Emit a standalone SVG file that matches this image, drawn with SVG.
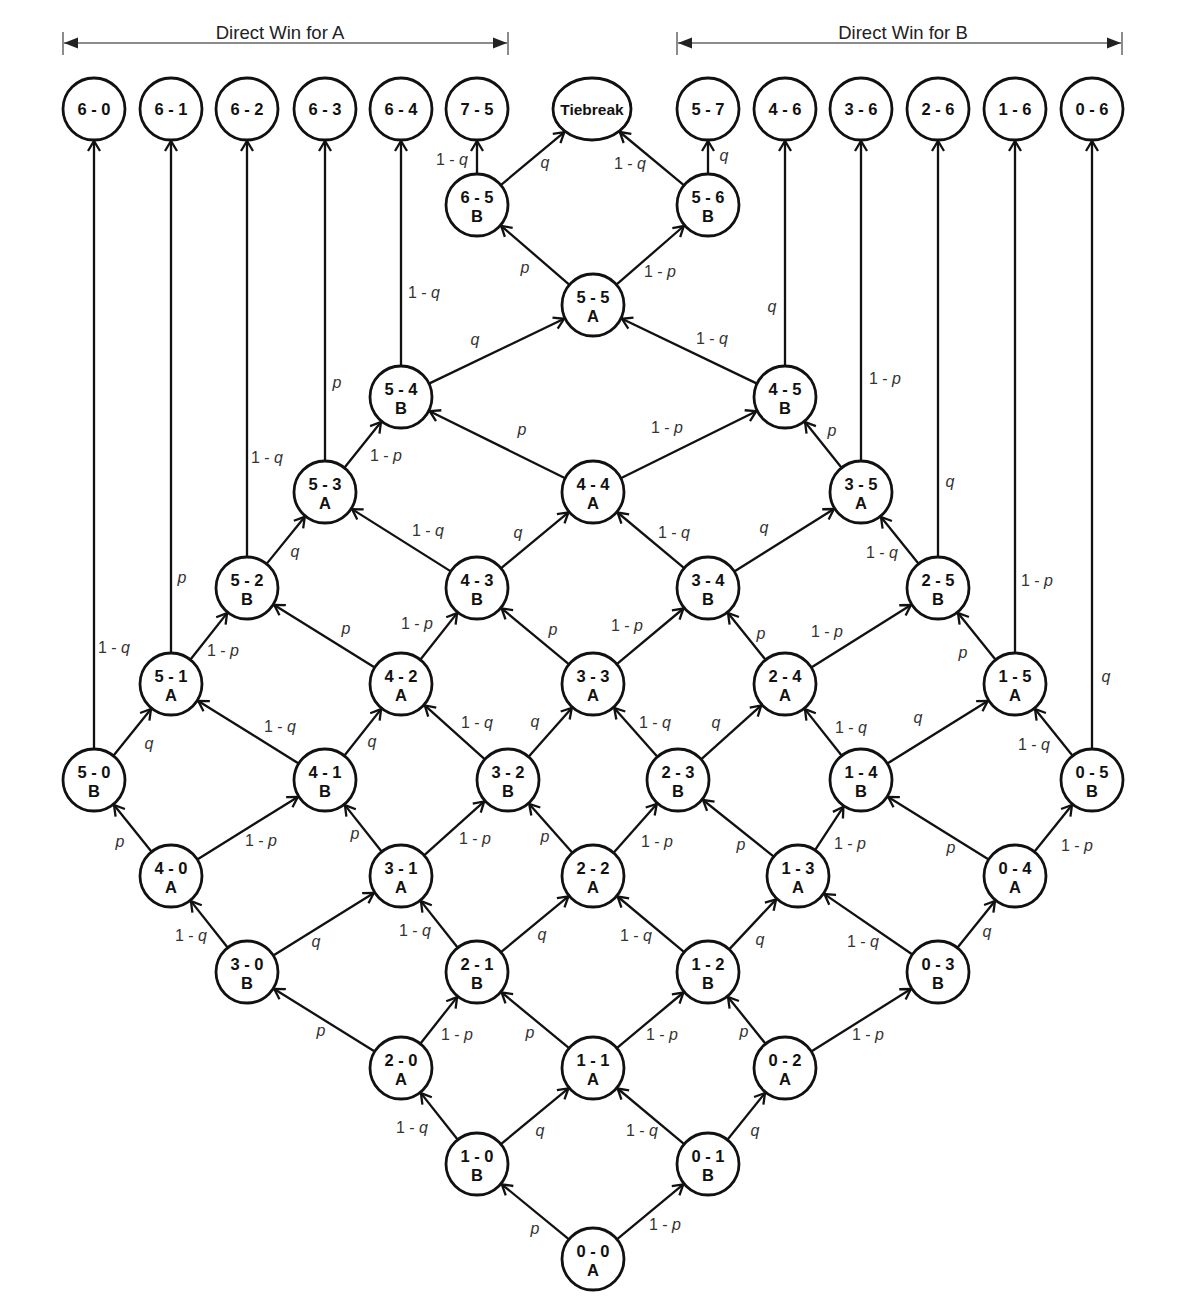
<svg xmlns="http://www.w3.org/2000/svg" width="1184" height="1310" viewBox="0 0 1184 1310">
<style>
.n{fill:#fff;stroke:#111;stroke-width:2.8}
.t{font-family:"Liberation Sans",Arial,sans-serif;font-size:16.5px;font-weight:bold;fill:#111;text-anchor:middle}
.e{stroke:#111;stroke-width:2.3;fill:none;marker-end:url(#ah)}
.l{font-family:"Liberation Sans",Arial,sans-serif;font-size:16px;fill:#333;text-anchor:middle}
.v{font-style:italic}
.h{stroke:#666;stroke-width:1.5;fill:none}
.ht{font-family:"Liberation Sans",Arial,sans-serif;font-size:18.5px;fill:#222;text-anchor:middle}
</style>
<defs>
<marker id="ah" markerUnits="userSpaceOnUse" viewBox="-12 -8 14 16" refX="0" refY="0" markerWidth="14" markerHeight="16" orient="auto">
<path d="M-10,-6 L0,0 L-10,6" fill="none" stroke="#111" stroke-width="2.3"/>
</marker>
<marker id="hh" markerUnits="userSpaceOnUse" viewBox="-14 -6 15 12" refX="0" refY="0" markerWidth="15" markerHeight="12" orient="auto-start-reverse">
<path d="M-14,-5.5 L0,0 L-14,5.5 Z" fill="#222"/>
</marker>
</defs>
<g id="headers">
<line class="h" x1="64" y1="43" x2="507" y2="43" style="marker-start:url(#hh);marker-end:url(#hh)"/>
<line class="h" x1="63" y1="32" x2="63" y2="55"/>
<line class="h" x1="508" y1="32" x2="508" y2="55"/>
<text class="ht" x="280" y="39">Direct Win for A</text>
<line class="h" x1="678" y1="43" x2="1121" y2="43" style="marker-start:url(#hh);marker-end:url(#hh)"/>
<line class="h" x1="677" y1="32" x2="677" y2="55"/>
<line class="h" x1="1122" y1="32" x2="1122" y2="55"/>
<text class="ht" x="903" y="39">Direct Win for B</text>
</g>
<g id="connectors">
<line class="e" x1="569.0" y1="1239.3" x2="501.8" y2="1184.3"/>
<line class="e" x1="616.9" y1="1239.3" x2="683.3" y2="1184.4"/>
<line class="e" x1="457.8" y1="1139.7" x2="420.9" y2="1093.1"/>
<line class="e" x1="500.9" y1="1144.2" x2="568.4" y2="1088.4"/>
<line class="e" x1="684.2" y1="1144.1" x2="617.6" y2="1088.5"/>
<line class="e" x1="727.4" y1="1139.8" x2="765.0" y2="1093.0"/>
<line class="e" x1="374.7" y1="1051.6" x2="274.2" y2="988.9"/>
<line class="e" x1="420.3" y1="1043.7" x2="457.1" y2="997.1"/>
<line class="e" x1="569.1" y1="1048.2" x2="501.6" y2="992.4"/>
<line class="e" x1="616.8" y1="1048.1" x2="683.4" y2="992.5"/>
<line class="e" x1="765.6" y1="1043.8" x2="728.0" y2="997.0"/>
<line class="e" x1="811.3" y1="1051.5" x2="910.9" y2="989.0"/>
<line class="e" x1="227.8" y1="947.7" x2="190.9" y2="901.1"/>
<line class="e" x1="273.3" y1="955.6" x2="373.8" y2="892.9"/>
<line class="e" x1="457.8" y1="947.7" x2="420.9" y2="901.1"/>
<line class="e" x1="500.9" y1="952.2" x2="568.4" y2="896.4"/>
<line class="e" x1="684.2" y1="952.1" x2="617.6" y2="896.5"/>
<line class="e" x1="729.2" y1="949.4" x2="776.1" y2="899.4"/>
<line class="e" x1="912.4" y1="954.5" x2="824.4" y2="894.1"/>
<line class="e" x1="957.4" y1="947.8" x2="995.0" y2="901.0"/>
<line class="e" x1="151.6" y1="851.8" x2="114.0" y2="805.0"/>
<line class="e" x1="197.3" y1="859.6" x2="297.8" y2="796.9"/>
<line class="e" x1="381.8" y1="851.7" x2="344.9" y2="805.1"/>
<line class="e" x1="424.1" y1="855.3" x2="484.2" y2="801.4"/>
<line class="e" x1="572.4" y1="852.8" x2="529.2" y2="804.0"/>
<line class="e" x1="613.6" y1="852.8" x2="656.8" y2="804.0"/>
<line class="e" x1="773.8" y1="856.6" x2="703.0" y2="800.0"/>
<line class="e" x1="815.0" y1="850.1" x2="843.4" y2="806.8"/>
<line class="e" x1="988.7" y1="859.6" x2="888.2" y2="796.9"/>
<line class="e" x1="1034.4" y1="851.8" x2="1072.0" y2="805.0"/>
<line class="e" x1="94" y1="749" x2="94" y2="141"/>
<line class="e" x1="113.4" y1="755.8" x2="151.0" y2="709.0"/>
<line class="e" x1="298.7" y1="763.6" x2="198.2" y2="700.9"/>
<line class="e" x1="344.3" y1="755.7" x2="381.1" y2="709.1"/>
<line class="e" x1="484.9" y1="759.3" x2="424.8" y2="705.4"/>
<line class="e" x1="528.6" y1="756.8" x2="571.8" y2="708.0"/>
<line class="e" x1="657.4" y1="756.8" x2="614.2" y2="708.0"/>
<line class="e" x1="701.1" y1="759.3" x2="761.2" y2="705.4"/>
<line class="e" x1="841.8" y1="755.7" x2="804.9" y2="709.1"/>
<line class="e" x1="887.3" y1="763.6" x2="987.8" y2="700.9"/>
<line class="e" x1="1072.6" y1="755.8" x2="1035.0" y2="709.0"/>
<line class="e" x1="1092" y1="749" x2="1092" y2="141"/>
<line class="e" x1="171" y1="653" x2="171" y2="141"/>
<line class="e" x1="190.3" y1="659.7" x2="227.1" y2="613.1"/>
<line class="e" x1="374.7" y1="667.6" x2="274.2" y2="604.9"/>
<line class="e" x1="420.3" y1="659.7" x2="457.1" y2="613.1"/>
<line class="e" x1="569.1" y1="664.3" x2="501.6" y2="608.4"/>
<line class="e" x1="616.8" y1="664.1" x2="683.4" y2="608.5"/>
<line class="e" x1="765.6" y1="659.8" x2="728.0" y2="613.0"/>
<line class="e" x1="811.3" y1="667.5" x2="910.9" y2="605.0"/>
<line class="e" x1="995.6" y1="659.8" x2="958.0" y2="613.0"/>
<line class="e" x1="1015" y1="653" x2="1015" y2="141"/>
<line class="e" x1="247" y1="557" x2="247" y2="141"/>
<line class="e" x1="266.6" y1="563.9" x2="304.8" y2="516.8"/>
<line class="e" x1="450.8" y1="571.4" x2="352.0" y2="509.1"/>
<line class="e" x1="500.9" y1="568.3" x2="568.4" y2="512.4"/>
<line class="e" x1="684.2" y1="568.1" x2="617.6" y2="512.5"/>
<line class="e" x1="734.3" y1="571.5" x2="833.9" y2="509.0"/>
<line class="e" x1="918.6" y1="563.8" x2="881.0" y2="517.0"/>
<line class="e" x1="938" y1="557" x2="938" y2="141"/>
<line class="e" x1="325" y1="461" x2="325" y2="141"/>
<line class="e" x1="344.4" y1="467.8" x2="381.0" y2="422.0"/>
<line class="e" x1="565.2" y1="478.2" x2="429.7" y2="411.2"/>
<line class="e" x1="620.8" y1="478.2" x2="756.3" y2="411.2"/>
<line class="e" x1="841.6" y1="467.8" x2="805.0" y2="422.0"/>
<line class="e" x1="861" y1="461" x2="861" y2="141"/>
<line class="e" x1="401" y1="366" x2="401" y2="141"/>
<line class="e" x1="429.0" y1="383.6" x2="564.1" y2="318.8"/>
<line class="e" x1="757.0" y1="383.6" x2="621.9" y2="318.8"/>
<line class="e" x1="785" y1="366" x2="785" y2="141"/>
<line class="e" x1="569.5" y1="284.8" x2="501.2" y2="225.9"/>
<line class="e" x1="616.4" y1="284.7" x2="683.8" y2="226.0"/>
<line class="e" x1="477" y1="174" x2="477" y2="141"/>
<line class="e" x1="708" y1="174" x2="708" y2="141"/>
<line class="e" x1="500.8" y1="185.1" x2="564.3" y2="132.1"/>
<line class="e" x1="684.1" y1="185.3" x2="619.8" y2="132.0"/>
<g id="edge-labels">
<text class="l" x="114" y="653">1 - <tspan class="v">q</tspan></text>
<text class="l" x="182" y="583"><tspan class="v">p</tspan></text>
<text class="l" x="267" y="463">1 - <tspan class="v">q</tspan></text>
<text class="l" x="337" y="388"><tspan class="v">p</tspan></text>
<text class="l" x="424" y="298">1 - <tspan class="v">q</tspan></text>
<text class="l" x="772" y="312"><tspan class="v">q</tspan></text>
<text class="l" x="885" y="384">1 - <tspan class="v">p</tspan></text>
<text class="l" x="950" y="487"><tspan class="v">q</tspan></text>
<text class="l" x="1037" y="586">1 - <tspan class="v">p</tspan></text>
<text class="l" x="1106" y="682"><tspan class="v">q</tspan></text>
<text class="l" x="452" y="165">1 - <tspan class="v">q</tspan></text>
<text class="l" x="545" y="168"><tspan class="v">q</tspan></text>
<text class="l" x="630" y="169">1 - <tspan class="v">q</tspan></text>
<text class="l" x="724" y="161"><tspan class="v">q</tspan></text>
<text class="l" x="525" y="273"><tspan class="v">p</tspan></text>
<text class="l" x="660" y="277">1 - <tspan class="v">p</tspan></text>
<text class="l" x="475" y="345"><tspan class="v">q</tspan></text>
<text class="l" x="712" y="344">1 - <tspan class="v">q</tspan></text>
<text class="l" x="522" y="435"><tspan class="v">p</tspan></text>
<text class="l" x="667" y="433">1 - <tspan class="v">p</tspan></text>
<text class="l" x="386" y="461">1 - <tspan class="v">p</tspan></text>
<text class="l" x="832" y="436"><tspan class="v">p</tspan></text>
<text class="l" x="295" y="557"><tspan class="v">q</tspan></text>
<text class="l" x="428" y="536">1 - <tspan class="v">q</tspan></text>
<text class="l" x="518" y="538"><tspan class="v">q</tspan></text>
<text class="l" x="674" y="538">1 - <tspan class="v">q</tspan></text>
<text class="l" x="764" y="533"><tspan class="v">q</tspan></text>
<text class="l" x="882" y="558">1 - <tspan class="v">q</tspan></text>
<text class="l" x="223" y="656">1 - <tspan class="v">p</tspan></text>
<text class="l" x="346" y="634"><tspan class="v">p</tspan></text>
<text class="l" x="417" y="629">1 - <tspan class="v">p</tspan></text>
<text class="l" x="553" y="635"><tspan class="v">p</tspan></text>
<text class="l" x="627" y="631">1 - <tspan class="v">p</tspan></text>
<text class="l" x="761" y="639"><tspan class="v">p</tspan></text>
<text class="l" x="827" y="637">1 - <tspan class="v">p</tspan></text>
<text class="l" x="963" y="658"><tspan class="v">p</tspan></text>
<text class="l" x="149" y="749"><tspan class="v">q</tspan></text>
<text class="l" x="280" y="732">1 - <tspan class="v">q</tspan></text>
<text class="l" x="372" y="747"><tspan class="v">q</tspan></text>
<text class="l" x="477" y="728">1 - <tspan class="v">q</tspan></text>
<text class="l" x="535" y="727"><tspan class="v">q</tspan></text>
<text class="l" x="655" y="728">1 - <tspan class="v">q</tspan></text>
<text class="l" x="716" y="728"><tspan class="v">q</tspan></text>
<text class="l" x="851" y="733">1 - <tspan class="v">q</tspan></text>
<text class="l" x="918" y="723"><tspan class="v">q</tspan></text>
<text class="l" x="1034" y="750">1 - <tspan class="v">q</tspan></text>
<text class="l" x="120" y="847"><tspan class="v">p</tspan></text>
<text class="l" x="261" y="846">1 - <tspan class="v">p</tspan></text>
<text class="l" x="355" y="839"><tspan class="v">p</tspan></text>
<text class="l" x="475" y="844">1 - <tspan class="v">p</tspan></text>
<text class="l" x="545" y="842"><tspan class="v">p</tspan></text>
<text class="l" x="657" y="847">1 - <tspan class="v">p</tspan></text>
<text class="l" x="741" y="850"><tspan class="v">p</tspan></text>
<text class="l" x="850" y="849">1 - <tspan class="v">p</tspan></text>
<text class="l" x="951" y="853"><tspan class="v">p</tspan></text>
<text class="l" x="1077" y="851">1 - <tspan class="v">p</tspan></text>
<text class="l" x="191" y="941">1 - <tspan class="v">q</tspan></text>
<text class="l" x="316" y="947"><tspan class="v">q</tspan></text>
<text class="l" x="415" y="936">1 - <tspan class="v">q</tspan></text>
<text class="l" x="542" y="940"><tspan class="v">q</tspan></text>
<text class="l" x="636" y="941">1 - <tspan class="v">q</tspan></text>
<text class="l" x="760" y="945"><tspan class="v">q</tspan></text>
<text class="l" x="863" y="947">1 - <tspan class="v">q</tspan></text>
<text class="l" x="987" y="937"><tspan class="v">q</tspan></text>
<text class="l" x="321" y="1036"><tspan class="v">p</tspan></text>
<text class="l" x="457" y="1040">1 - <tspan class="v">p</tspan></text>
<text class="l" x="530" y="1038"><tspan class="v">p</tspan></text>
<text class="l" x="662" y="1040">1 - <tspan class="v">p</tspan></text>
<text class="l" x="744" y="1037"><tspan class="v">p</tspan></text>
<text class="l" x="868" y="1040">1 - <tspan class="v">p</tspan></text>
<text class="l" x="412" y="1133">1 - <tspan class="v">q</tspan></text>
<text class="l" x="540" y="1136"><tspan class="v">q</tspan></text>
<text class="l" x="642" y="1136">1 - <tspan class="v">q</tspan></text>
<text class="l" x="755" y="1136"><tspan class="v">q</tspan></text>
<text class="l" x="535" y="1234"><tspan class="v">p</tspan></text>
<text class="l" x="665" y="1230">1 - <tspan class="v">p</tspan></text>
</g>
</g>
<g id="nodes">
<g id="n6-0"><circle class="n" cx="94" cy="109" r="31"/><text class="t" x="94" y="115">6 - 0</text></g>
<g id="n6-1"><circle class="n" cx="171" cy="109" r="31"/><text class="t" x="171" y="115">6 - 1</text></g>
<g id="n6-2"><circle class="n" cx="247" cy="109" r="31"/><text class="t" x="247" y="115">6 - 2</text></g>
<g id="n6-3"><circle class="n" cx="325" cy="109" r="31"/><text class="t" x="325" y="115">6 - 3</text></g>
<g id="n6-4"><circle class="n" cx="401" cy="109" r="31"/><text class="t" x="401" y="115">6 - 4</text></g>
<g id="n7-5"><circle class="n" cx="477" cy="109" r="31"/><text class="t" x="477" y="115">7 - 5</text></g>
<g id="tiebreak"><ellipse class="n" cx="592" cy="109" rx="39" ry="31"/><text class="t" x="592" y="115" style="font-size:15.5px">Tiebreak</text></g>
<g id="n5-7"><circle class="n" cx="708" cy="109" r="31"/><text class="t" x="708" y="115">5 - 7</text></g>
<g id="n4-6"><circle class="n" cx="785" cy="109" r="31"/><text class="t" x="785" y="115">4 - 6</text></g>
<g id="n3-6"><circle class="n" cx="861" cy="109" r="31"/><text class="t" x="861" y="115">3 - 6</text></g>
<g id="n2-6"><circle class="n" cx="938" cy="109" r="31"/><text class="t" x="938" y="115">2 - 6</text></g>
<g id="n1-6"><circle class="n" cx="1015" cy="109" r="31"/><text class="t" x="1015" y="115">1 - 6</text></g>
<g id="n0-6"><circle class="n" cx="1092" cy="109" r="31"/><text class="t" x="1092" y="115">0 - 6</text></g>

<g id="n6-5"><circle class="n" cx="477" cy="205" r="31"/><text class="t" x="477" y="203">6 - 5</text><text class="t" x="477" y="222">B</text></g>
<g id="n5-6"><circle class="n" cx="708" cy="205" r="31"/><text class="t" x="708" y="203">5 - 6</text><text class="t" x="708" y="222">B</text></g>
<g id="n5-5"><circle class="n" cx="593" cy="305" r="31"/><text class="t" x="593" y="303">5 - 5</text><text class="t" x="593" y="322">A</text></g>
<g id="n5-4"><circle class="n" cx="401" cy="397" r="31"/><text class="t" x="401" y="395">5 - 4</text><text class="t" x="401" y="414">B</text></g>
<g id="n4-5"><circle class="n" cx="785" cy="397" r="31"/><text class="t" x="785" y="395">4 - 5</text><text class="t" x="785" y="414">B</text></g>
<g id="n5-3"><circle class="n" cx="325" cy="492" r="31"/><text class="t" x="325" y="490">5 - 3</text><text class="t" x="325" y="509">A</text></g>
<g id="n4-4"><circle class="n" cx="593" cy="492" r="31"/><text class="t" x="593" y="490">4 - 4</text><text class="t" x="593" y="509">A</text></g>
<g id="n3-5"><circle class="n" cx="861" cy="492" r="31"/><text class="t" x="861" y="490">3 - 5</text><text class="t" x="861" y="509">A</text></g>
<g id="n5-2"><circle class="n" cx="247" cy="588" r="31"/><text class="t" x="247" y="586">5 - 2</text><text class="t" x="247" y="605">B</text></g>
<g id="n4-3"><circle class="n" cx="477" cy="588" r="31"/><text class="t" x="477" y="586">4 - 3</text><text class="t" x="477" y="605">B</text></g>
<g id="n3-4"><circle class="n" cx="708" cy="588" r="31"/><text class="t" x="708" y="586">3 - 4</text><text class="t" x="708" y="605">B</text></g>
<g id="n2-5"><circle class="n" cx="938" cy="588" r="31"/><text class="t" x="938" y="586">2 - 5</text><text class="t" x="938" y="605">B</text></g>
<g id="n5-1"><circle class="n" cx="171" cy="684" r="31"/><text class="t" x="171" y="682">5 - 1</text><text class="t" x="171" y="701">A</text></g>
<g id="n4-2"><circle class="n" cx="401" cy="684" r="31"/><text class="t" x="401" y="682">4 - 2</text><text class="t" x="401" y="701">A</text></g>
<g id="n3-3"><circle class="n" cx="593" cy="684" r="31"/><text class="t" x="593" y="682">3 - 3</text><text class="t" x="593" y="701">A</text></g>
<g id="n2-4"><circle class="n" cx="785" cy="684" r="31"/><text class="t" x="785" y="682">2 - 4</text><text class="t" x="785" y="701">A</text></g>
<g id="n1-5"><circle class="n" cx="1015" cy="684" r="31"/><text class="t" x="1015" y="682">1 - 5</text><text class="t" x="1015" y="701">A</text></g>
<g id="n5-0"><circle class="n" cx="94" cy="780" r="31"/><text class="t" x="94" y="778">5 - 0</text><text class="t" x="94" y="797">B</text></g>
<g id="n4-1"><circle class="n" cx="325" cy="780" r="31"/><text class="t" x="325" y="778">4 - 1</text><text class="t" x="325" y="797">B</text></g>
<g id="n3-2"><circle class="n" cx="508" cy="780" r="31"/><text class="t" x="508" y="778">3 - 2</text><text class="t" x="508" y="797">B</text></g>
<g id="n2-3"><circle class="n" cx="678" cy="780" r="31"/><text class="t" x="678" y="778">2 - 3</text><text class="t" x="678" y="797">B</text></g>
<g id="n1-4"><circle class="n" cx="861" cy="780" r="31"/><text class="t" x="861" y="778">1 - 4</text><text class="t" x="861" y="797">B</text></g>
<g id="n0-5"><circle class="n" cx="1092" cy="780" r="31"/><text class="t" x="1092" y="778">0 - 5</text><text class="t" x="1092" y="797">B</text></g>
<g id="n4-0"><circle class="n" cx="171" cy="876" r="31"/><text class="t" x="171" y="874">4 - 0</text><text class="t" x="171" y="893">A</text></g>
<g id="n3-1"><circle class="n" cx="401" cy="876" r="31"/><text class="t" x="401" y="874">3 - 1</text><text class="t" x="401" y="893">A</text></g>
<g id="n2-2"><circle class="n" cx="593" cy="876" r="31"/><text class="t" x="593" y="874">2 - 2</text><text class="t" x="593" y="893">A</text></g>
<g id="n1-3"><circle class="n" cx="798" cy="876" r="31"/><text class="t" x="798" y="874">1 - 3</text><text class="t" x="798" y="893">A</text></g>
<g id="n0-4"><circle class="n" cx="1015" cy="876" r="31"/><text class="t" x="1015" y="874">0 - 4</text><text class="t" x="1015" y="893">A</text></g>
<g id="n3-0"><circle class="n" cx="247" cy="972" r="31"/><text class="t" x="247" y="970">3 - 0</text><text class="t" x="247" y="989">B</text></g>
<g id="n2-1"><circle class="n" cx="477" cy="972" r="31"/><text class="t" x="477" y="970">2 - 1</text><text class="t" x="477" y="989">B</text></g>
<g id="n1-2"><circle class="n" cx="708" cy="972" r="31"/><text class="t" x="708" y="970">1 - 2</text><text class="t" x="708" y="989">B</text></g>
<g id="n0-3"><circle class="n" cx="938" cy="972" r="31"/><text class="t" x="938" y="970">0 - 3</text><text class="t" x="938" y="989">B</text></g>
<g id="n2-0"><circle class="n" cx="401" cy="1068" r="31"/><text class="t" x="401" y="1066">2 - 0</text><text class="t" x="401" y="1085">A</text></g>
<g id="n1-1"><circle class="n" cx="593" cy="1068" r="31"/><text class="t" x="593" y="1066">1 - 1</text><text class="t" x="593" y="1085">A</text></g>
<g id="n0-2"><circle class="n" cx="785" cy="1068" r="31"/><text class="t" x="785" y="1066">0 - 2</text><text class="t" x="785" y="1085">A</text></g>
<g id="n1-0"><circle class="n" cx="477" cy="1164" r="31"/><text class="t" x="477" y="1162">1 - 0</text><text class="t" x="477" y="1181">B</text></g>
<g id="n0-1"><circle class="n" cx="708" cy="1164" r="31"/><text class="t" x="708" y="1162">0 - 1</text><text class="t" x="708" y="1181">B</text></g>
<g id="n0-0"><circle class="n" cx="593" cy="1259" r="31"/><text class="t" x="593" y="1257">0 - 0</text><text class="t" x="593" y="1276">A</text></g>
</g>
</svg>
